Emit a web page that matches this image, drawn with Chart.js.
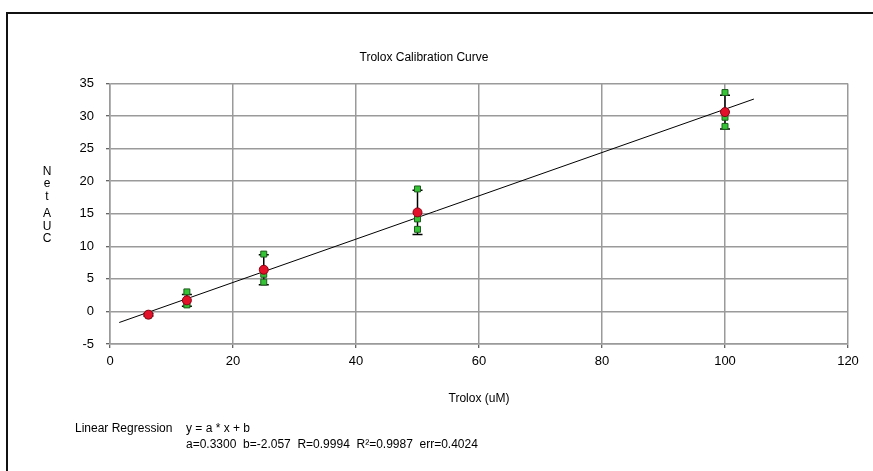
<!DOCTYPE html>
<html>
<head>
<meta charset="utf-8">
<title>Trolox Calibration Curve</title>
<script src="https://cdn.jsdelivr.net/npm/chart.js@4"></script>
<style>
  html, body { margin: 0; padding: 0; background: #fff; }
  #wrap { position: relative; width: 873px; height: 471px; overflow: hidden;
          font-family: 'Liberation Sans', Arial, sans-serif; color: #000; }
  #frame { position: absolute; left: 6px; top: 12px; right: -10px; bottom: -10px;
           border-left: 2px solid #111; border-top: 2px solid #111; }
  canvas { position: absolute; left: 0; top: 0; }
  .txt { position: absolute; font-size: 12px; white-space: pre; line-height: 14px; }
  #ytitle { position: absolute; left: 40px; top: 165px; width: 14px; text-align: center;
            font-size: 12px; line-height: 12.4px; }
  #ytitle span { display: block; }
</style>
</head>
<body>
<div id="wrap">
  <div id="frame"></div>
  <canvas id="chart" width="873" height="471"></canvas>
  <div id="ytitle"><span>N</span><span>e</span><span>t</span><span style="height:5px"></span><span>A</span><span>U</span><span>C</span></div>
  <div class="txt" style="left:75px; top:421px;">Linear Regression</div>
  <div class="txt" style="left:186px; top:421px;">y = a * x + b</div>
  <div class="txt" style="left:186px; top:437px;">a=0.3300  b=-2.057  R=0.9994  R²=0.9987  err=0.4024</div>
</div>
<script>
  // Concentrations des standards Trolox (uM)
  const concentrations = [6.25, 12.5, 25, 50, 100];
  // Net AUC moyen et écart-type
  const meanAUC = [-0.5, 1.7, 6.4, 15.2, 30.6];
  const sdAUC   = [0.2, 0.9, 2.3, 3.4, 2.6];
  // Réplicats individuels
  const rep1 = [-0.4, 3.0, 8.8, 18.8, 33.6];
  const rep2 = [-0.5, 1.1, 5.7, 14.2, 29.8];
  const rep3 = [-0.6, 1.0, 4.5, 12.6, 28.4];
  // Droite de régression (extrémités)
  const fitX = [1.5, 104.7];
  const fitY = [-1.7, 32.6];
  // Graduations
  const xTicks = [0, 20, 40, 60, 80, 100, 120];
  const yTicks = [-5, 0, 5, 10, 15, 20, 25, 30, 35];

  const replicats = [];
  [rep1, rep2, rep3].forEach(rep => {
    rep.forEach((v, i) => replicats.push({ x: concentrations[i], y: v }));
  });

  // Barres d'erreur : segments séparés par des trous (null)
  const barres = [];
  concentrations.forEach((c, i) => {
    barres.push({ x: c, y: meanAUC[i] - sdAUC[i] });
    barres.push({ x: c, y: meanAUC[i] + sdAUC[i] });
    barres.push({ x: c, y: null });
  });

  const police = { family: "'Liberation Sans', Arial, sans-serif", size: 13 };

  new Chart(document.getElementById('chart'), {
    type: 'scatter',
    data: {
      datasets: [
        {
          label: 'Moyenne',
          data: concentrations.map((c, i) => ({ x: c, y: meanAUC[i] })),
          pointStyle: 'circle',
          pointRadius: 4.5,
          backgroundColor: '#e3122b',
          borderColor: '#8a0010',
          borderWidth: 1,
          order: 1
        },
        {
          label: 'Réplicats',
          data: replicats,
          pointStyle: 'rect',
          pointRadius: 4.2,
          backgroundColor: '#35c435',
          borderColor: '#1d5a1d',
          borderWidth: 1,
          order: 2
        },
        {
          label: 'Erreur',
          data: barres,
          showLine: true,
          spanGaps: false,
          borderColor: '#000',
          borderWidth: 1.5,
          pointStyle: 'line',
          pointRadius: 5,
          pointBorderColor: '#000',
          pointBorderWidth: 1.5,
          order: 3
        },
        {
          label: 'Régression',
          data: fitX.map((x, i) => ({ x, y: fitY[i] })),
          showLine: true,
          borderColor: '#000',
          borderWidth: 1,
          pointRadius: 0,
          order: 4
        }
      ]
    },
    options: {
      responsive: false,
      animation: false,
      layout: { padding: { left: 0, right: 25, top: 0, bottom: 0 } },
      plugins: {
        legend: { display: false },
        tooltip: { enabled: false },
        title: {
          display: true,
          text: 'Trolox Calibration Curve',
          color: '#000',
          font: { family: police.family, size: 12, weight: 'normal' },
          padding: { top: 50, bottom: 19 }
        }
      },
      scales: {
        x: {
          type: 'linear',
          min: 0,
          max: 120,
          afterBuildTicks: (s) => { s.ticks = xTicks.map(v => ({ value: v })); },
          afterFit: (s) => { s.height = 127; },
          ticks: { color: '#000', font: police, padding: 6, maxRotation: 0 },
          grid: { color: '#9a9a9a', lineWidth: 1.5, tickColor: '#333', tickLength: 4, tickWidth: 1 },
          border: { color: '#9a9a9a', width: 1.5 },
          title: {
            display: true,
            text: 'Trolox (uM)',
            color: '#000',
            font: { family: police.family, size: 12 },
            padding: { top: 0, bottom: 65 }
          }
        },
        y: {
          type: 'linear',
          min: -5,
          max: 35,
          afterBuildTicks: (s) => { s.ticks = yTicks.map(v => ({ value: v })); },
          afterFit: (s) => { s.width = 110; },
          ticks: { color: '#000', font: police, padding: 12 },
          grid: { color: '#9a9a9a', lineWidth: 1.5, tickColor: '#333', tickLength: 4, tickWidth: 1 },
          border: { color: '#9a9a9a', width: 1.5 }
        }
      }
    }
  });
</script>
</body>
</html>
